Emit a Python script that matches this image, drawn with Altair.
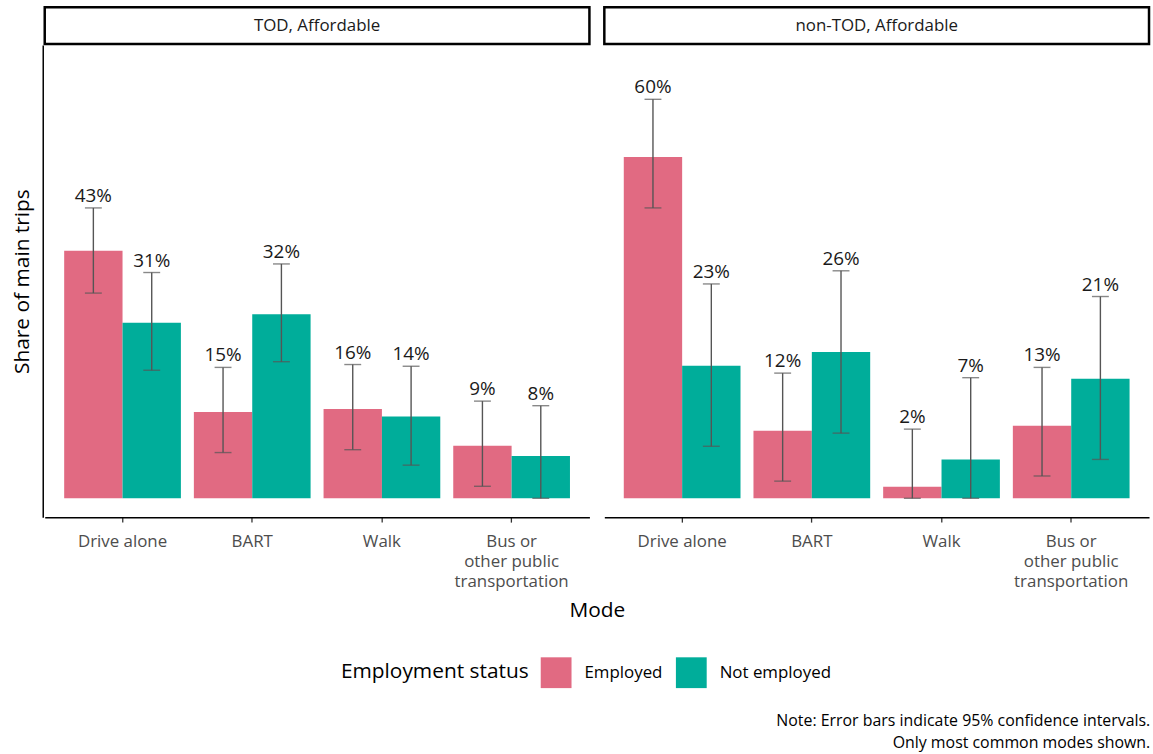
import altair as alt
import pandas as pd

FONT = "Open Sans"

panels = ["TOD, Affordable", "non-TOD, Affordable"]
modes = ["Drive alone", "BART", "Walk", "Bus or other public transportation"]
statuses = ["Employed", "Not employed"]

# TOD, Affordable
tod_emp_share = [43.3, 15.1, 15.6, 9.2]
tod_emp_low = [35.9, 8.0, 8.5, 2.1]
tod_emp_high = [50.8, 22.9, 23.4, 17.0]
tod_emp_label = ["43%", "15%", "16%", "9%"]

tod_not_share = [30.7, 32.2, 14.3, 7.4]
tod_not_low = [22.4, 23.9, 5.8, 0.0]
tod_not_high = [39.5, 41.0, 23.1, 16.2]
tod_not_label = ["31%", "32%", "14%", "8%"]

# non-TOD, Affordable
non_emp_share = [59.7, 11.8, 2.0, 12.7]
non_emp_low = [50.8, 3.0, 0.0, 3.9]
non_emp_high = [69.8, 21.9, 12.1, 22.9]
non_emp_label = ["60%", "12%", "2%", "13%"]

non_not_share = [23.2, 25.6, 6.8, 20.9]
non_not_low = [9.1, 11.4, 0.0, 6.8]
non_not_high = [37.5, 39.8, 21.1, 35.3]
non_not_label = ["23%", "26%", "7%", "21%"]

series = [
    (panels[0], statuses[0], tod_emp_share, tod_emp_low, tod_emp_high, tod_emp_label),
    (panels[0], statuses[1], tod_not_share, tod_not_low, tod_not_high, tod_not_label),
    (panels[1], statuses[0], non_emp_share, non_emp_low, non_emp_high, non_emp_label),
    (panels[1], statuses[1], non_not_share, non_not_low, non_not_high, non_not_label),
]
rows = []
for panel, status, share, low, high, lab in series:
    for m, s, lo, hi, lb in zip(modes, share, low, high, lab):
        rows.append(dict(panel=panel, mode=m, status=status, share=s,
                         lower=lo, upper=hi, label=lb))
df = pd.DataFrame(rows)

W = 548
H = 475
ERR = "#555555"

x_enc = alt.X(
    "mode:N", sort=modes,
    scale=alt.Scale(paddingInner=0.1, paddingOuter=0.15),
    axis=alt.Axis(
        title=None, labelAngle=0,
        labelExpr="datum.label == 'Bus or other public transportation' ? ['Bus or', 'other public', 'transportation'] : datum.label",
    ),
)
xo_enc = alt.XOffset("status:N", sort=statuses,
                     scale=alt.Scale(paddingInner=0, paddingOuter=0))
ys = alt.Scale(domain=[-3.3, 79.3], nice=False, zero=False)
yax = alt.Axis(title="Share of main trips", labels=False, ticks=False, grid=False)

bars = alt.Chart().mark_bar().encode(
    x=x_enc, xOffset=xo_enc,
    y=alt.Y("share:Q", scale=ys, axis=yax),
    color=alt.Color("status:N", sort=statuses,
                    scale=alt.Scale(domain=statuses, range=["#E16A82", "#00AD9A"]),
                    legend=alt.Legend(title="Employment status")),
)
rules = alt.Chart().mark_rule(color=ERR, strokeWidth=1.4).encode(
    x=x_enc, xOffset=xo_enc,
    y=alt.Y("lower:Q", scale=ys, axis=yax), y2="upper:Q",
)
cap_lo = alt.Chart().mark_tick(color=ERR, thickness=1.4, size=17).encode(
    x=x_enc, xOffset=xo_enc, y=alt.Y("lower:Q", scale=ys, axis=yax),
)
cap_hi = alt.Chart().mark_tick(color=ERR, thickness=1.4, size=17).encode(
    x=x_enc, xOffset=xo_enc, y=alt.Y("upper:Q", scale=ys, axis=yax),
)
labels = alt.Chart().mark_text(dy=-12, baseline="middle", fontSize=19,
                               color="#1a1a1a", font=FONT).encode(
    x=x_enc, xOffset=xo_enc, y=alt.Y("upper:Q", scale=ys, axis=yax),
    text="label:N",
)
one = (alt.datum.mode == "Drive alone") & (alt.datum.status == "Employed")
strip_box = alt.Chart().mark_rect(fillOpacity=0, stroke="black", strokeWidth=2.5).encode(
    x=alt.value(0), x2=alt.value(W), y=alt.value(-38), y2=alt.value(-1),
).transform_filter(one)
strip_text = alt.Chart().mark_text(fontSize=17, font=FONT, color="#1a1a1a",
                                   baseline="middle").encode(
    x=alt.value(W / 2), y=alt.value(-19), text="panel:N",
).transform_filter(one)

layered = alt.layer(bars, rules, cap_lo, cap_hi, labels, strip_box, strip_text,
                    data=df).properties(width=W, height=H)

chart = layered.facet(
    column=alt.Column(
        "panel:N", sort=panels,
        header=alt.Header(title="Mode", titleOrient="bottom", labels=False,
                          titleFont=FONT, titleFontSize=21, titleColor="black",
                          titleFontWeight="normal", titlePadding=0),
    ),
    spacing=11,
).properties(
    padding={"left": 12, "top": 3, "right": 2, "bottom": 2},
    title=alt.TitleParams(
        text=["Note: Error bars indicate 95% confidence intervals.",
              "Only most common modes shown."],
        orient="bottom", anchor="end", fontSize=16, fontWeight="normal",
        color="black", font=FONT, lineHeight=22, offset=25,
    ),
).configure_view(stroke=None).configure_axis(
    labelFont=FONT, titleFont=FONT, domainColor="black", domainWidth=1.5,
    titleFontSize=21, titleFontWeight="normal", titleColor="black",
).configure_axisX(
    labelFontSize=17, labelColor="#4d4d4d", tickColor="#333333", tickSize=5,
    tickWidth=1.3, labelPadding=12, labelLineHeight=20,
).configure_axisY(
    titlePadding=10,
).configure_legend(
    orient="none", legendX=298, legendY=616,
    direction="horizontal", titleOrient="left",
    titleFont=FONT, labelFont=FONT, titleFontSize=21, titleFontWeight="normal",
    titleColor="black", labelFontSize=17, labelColor="black", titleLimit=400,
    symbolType="square", symbolSize=960, symbolStrokeWidth=0,
    titlePadding=12, labelOffset=13, columnPadding=13,
)

chart.save("out.html", embed_options={"renderer": "svg", "actions": False})
